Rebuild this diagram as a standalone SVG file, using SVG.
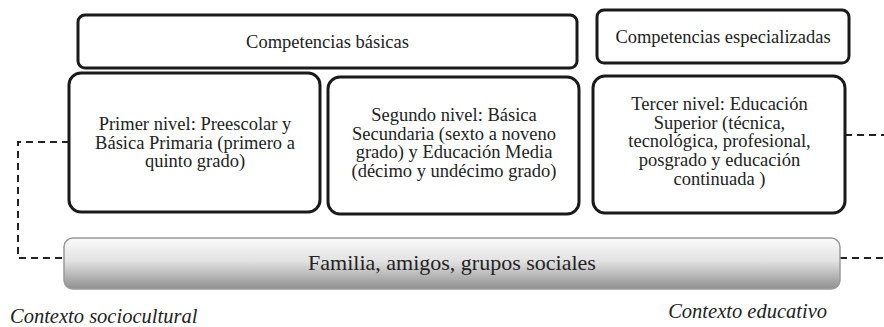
<svg xmlns="http://www.w3.org/2000/svg" width="884" height="327" viewBox="0 0 884 327">
<style>
.box{fill:#fff;stroke:#1a1a1a;stroke-width:3}
.t{font-family:'Liberation Serif',Tinos,'Times New Roman',Times,'DejaVu Serif',serif;font-size:18.5px;fill:#222;text-anchor:middle}
.ctx{font-family:'Liberation Serif',Tinos,'Times New Roman',Times,'DejaVu Serif',serif;font-size:20.5px;font-style:italic;fill:#222}
.fam{font-family:'Liberation Serif',Tinos,'Times New Roman',Times,'DejaVu Serif',serif;font-size:22px;fill:#222;text-anchor:middle}
.dash{fill:none;stroke:#222;stroke-width:2;stroke-dasharray:7,5}
</style>
<defs>
<linearGradient id="g" x1="0" y1="0" x2="0" y2="1">
<stop offset="0" stop-color="#fbfbfb"/>
<stop offset="0.45" stop-color="#e2e2e2"/>
<stop offset="1" stop-color="#8f8f8f"/>
</linearGradient>
</defs>
<rect width="884" height="327" fill="#fff"/>
<g id="connectors">
<path class="dash" d="M69,142 H18 V258 H64"/>
<path class="dash" d="M845,135 H884"/>
<path class="dash" d="M840,258 H884"/>
</g>
<g id="basicas">
<rect class="box" x="78" y="15" width="499" height="53" rx="7"/>
<text class="t" x="327.5" y="48" font-size="19.2">Competencias básicas</text>
</g>
<g id="especializadas">
<rect class="box" x="597" y="10" width="252" height="53" rx="7"/>
<text class="t" x="723" y="43" font-size="19.2">Competencias especializadas</text>
</g>
<g id="primer">
<rect class="box" x="69" y="73" width="251" height="139" rx="12"/>
<text class="t" x="195" y="130">Primer nivel: Preescolar y<tspan x="195" dy="18.7">Básica Primaria (primero a</tspan><tspan x="195" dy="18.7">quinto grado)</tspan></text>
</g>
<g id="segundo">
<rect class="box" x="328" y="77" width="251" height="137" rx="12"/>
<text class="t" x="454" y="121">Segundo nivel: Básica<tspan x="454" dy="18.7">Secundaria (sexto a noveno</tspan><tspan x="454" dy="18.7">grado) y Educación Media</tspan><tspan x="454" dy="18.7">(décimo y undécimo grado)</tspan></text>
</g>
<g id="tercer">
<rect class="box" x="593" y="76" width="252" height="137" rx="12"/>
<text class="t" x="719.5" y="110">Tercer nivel: Educación<tspan x="719.5" dy="18.7">Superior (técnica,</tspan><tspan x="719.5" dy="18.7">tecnológica, profesional,</tspan><tspan x="719.5" dy="18.7">posgrado y educación</tspan><tspan x="719.5" dy="18.7">continuada )</tspan></text>
</g>
<g id="familia">
<rect x="64" y="238" width="776" height="51" rx="9" fill="url(#g)" stroke="#9a9a9a" stroke-width="1.5"/>
<text class="fam" x="452" y="270">Familia, amigos, grupos sociales</text>
</g>
<g id="contextos">
<text class="ctx" x="10" y="323">Contexto sociocultural</text>
<text class="ctx" x="827" y="318" text-anchor="end" font-size="21">Contexto educativo</text>
</g>
</svg>
